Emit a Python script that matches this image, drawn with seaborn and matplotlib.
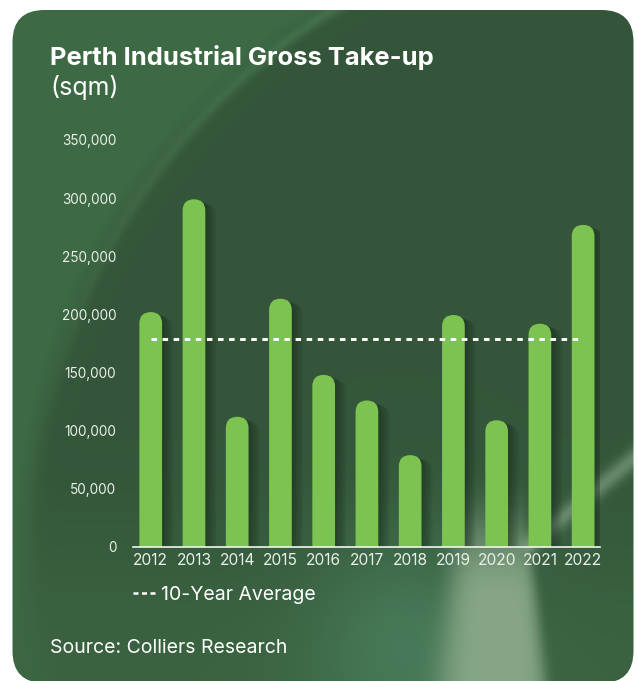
import numpy as np
import pandas as pd
import matplotlib
matplotlib.use("Agg")
import matplotlib.pyplot as plt
from matplotlib.patches import FancyBboxPatch
from matplotlib.lines import Line2D
from matplotlib.ticker import FuncFormatter
import seaborn as sns

# ---- data -------------------------------------------------------------
years = ["2012", "2013", "2014", "2015", "2016", "2017",
         "2018", "2019", "2020", "2021", "2022"]
take_up_sqm = [202000, 299000, 112000, 213500, 148000, 126000,
               79000, 199500, 109000, 192000, 277000]
ten_year_average = 178500
y_ticks = [0, 50000, 100000, 150000, 200000, 250000, 300000, 350000]

title = "Perth Industrial Gross Take-up"
unit_label = "(sqm)"
legend_label = "10-Year Average"
source_note = "Source: Colliers Research"

# ---- style ------------------------------------------------------------
BAR_GREEN = "#7cc352"
SHADOW = "#16261a"
TEXT = "#ffffff"
TICK_TEXT = "#e9f0e9"

sns.set_theme(style="white")
plt.rcParams["font.family"] = ["Inter", "DejaVu Sans"]

W, H = 638, 681
fig = plt.figure(figsize=(W / 100, H / 100), dpi=100)
fig.patch.set_facecolor("white")


# ---- card background with soft lighting --------------------------------
def smoothstep(t):
    t = np.clip(t, 0, 1)
    return t * t * (3 - 2 * t)


def blend(img, color, weight):
    w = np.clip(weight, 0, 1)[..., None]
    return img * (1 - w) + np.asarray(color) * w


yy, xx = np.mgrid[0:H, 0:W] + 0.5
img = np.empty((H, W, 3))
img[:] = (0.204, 0.337, 0.227)

# large arc sweeping across the upper left
d_arc = np.hypot(xx - 664, yy - 546)
img = blend(img, (0.243, 0.416, 0.271), 1 / (1 + np.exp(-(d_arc - 634) / 5)))
img = blend(img, (0.30, 0.50, 0.33),
            0.55 * np.exp(-((d_arc - 630) / 6) ** 2) * np.clip(1 - yy / 450, 0, 1))

# lower part brightens slightly, teal haze bottom centre
img = blend(img, (0.235, 0.40, 0.26), 0.8 * smoothstep((yy - 430) / 250))
img = blend(img, (0.28, 0.48, 0.35),
            0.95 * np.exp(-(((xx - 405) / 95) ** 2 + ((yy - 650) / 110) ** 2)))

# pale light beam at the bottom
hw = np.clip(36 + 16 * (yy - 540) / 140, 18, None)
u = (xx - 494) / hw
beam = np.where(u > 0, np.exp(-u ** 8), np.exp(-(u / 1.1) ** 4))
img = blend(img, (0.55, 0.67, 0.55), 0.92 * beam * smoothstep((yy - 470) / 130))

# thin flare towards the right edge
p0 = np.array([530.0, 545.0])
p1 = np.array([650.0, 445.0])
seg = p1 - p0
t = np.clip(((xx - p0[0]) * seg[0] + (yy - p0[1]) * seg[1]) / seg.dot(seg), 0, 1)
dist = np.hypot(xx - (p0[0] + t * seg[0]), yy - (p0[1] + t * seg[1]))
img = blend(img, (0.56, 0.68, 0.56), 0.55 * np.exp(-(dist / 9) ** 2))

bg = fig.add_axes([0, 0, 1, 1], zorder=0)
bg.set_xlim(0, W)
bg.set_ylim(H, 0)
bg.axis("off")
card = FancyBboxPatch((12.5, 10), 621, 673,
                      boxstyle="round,pad=0,rounding_size=32",
                      facecolor="none", edgecolor="none")
bg.add_patch(card)
im = bg.imshow(img, extent=(0, W, H, 0), interpolation="bilinear", aspect="auto")
im.set_clip_path(card)

# ---- bar chart --------------------------------------------------------
ax_px = (133, 547, 467, 407)  # left, bottom (from top), width, height
ax = fig.add_axes([ax_px[0] / W, 1 - ax_px[1] / H, ax_px[2] / W, ax_px[3] / H],
                  zorder=1)
ax.patch.set_alpha(0)

df = pd.DataFrame({"year": years, "sqm": take_up_sqm})
sns.barplot(data=df, x="year", y="sqm", color=BAR_GREEN, width=0.525,
            saturation=1, ax=ax)

ax.set_ylim(y_ticks[0], y_ticks[-1])
ax.set_xlim(-0.41, len(years) - 1 + 0.39)

x_per_px = (ax.get_xlim()[1] - ax.get_xlim()[0]) / ax_px[2]
y_per_px = (ax.get_ylim()[1] - ax.get_ylim()[0]) / ax_px[3]
aspect = y_per_px / x_per_px

# swap the flat bars for pill-topped ones with a soft drop shadow
for bar in list(ax.patches):
    x0, w, h = bar.get_x(), bar.get_width(), bar.get_height()
    bar.remove()
    ext = (w / 2) * aspect
    style = f"round,pad=0,rounding_size={w / 2 * 0.999}"
    for k in range(1, 9):
        ax.add_patch(FancyBboxPatch(
            (x0 + k * 1.4 * x_per_px, -ext - k * 0.6 * y_per_px), w, h + ext,
            boxstyle=style, mutation_aspect=aspect,
            facecolor=SHADOW, edgecolor="none", alpha=0.07, zorder=1))
    ax.add_patch(FancyBboxPatch(
        (x0, -ext), w, h + ext, boxstyle=style, mutation_aspect=aspect,
        facecolor=BAR_GREEN, edgecolor="none", zorder=2))

avg_style = dict(color="white", linewidth=2.1, linestyle=(0, (1.9, 1.9)))
ax.plot([0, len(years) - 1], [ten_year_average] * 2, zorder=3, **avg_style)

sns.despine(ax=ax, left=True)
ax.spines["bottom"].set_color("#f2f5f2")
ax.spines["bottom"].set_linewidth(1.2)
ax.set_yticks(y_ticks)
ax.yaxis.set_major_formatter(FuncFormatter(lambda v, _: f"{v:,.0f}"))
ax.tick_params(axis="both", length=0, labelcolor=TICK_TEXT)
ax.tick_params(axis="y", pad=12, labelsize=9.8)
ax.tick_params(axis="x", pad=4.5, labelsize=11.2)
ax.set_xlabel("")
ax.set_ylabel("")
ax.grid(False)

# ---- legend and text --------------------------------------------------
handle = Line2D([], [], color="white", linewidth=1.8, linestyle=(0, (2.0, 1.4)))
fig.legend([handle], [legend_label], loc="center left",
           bbox_to_anchor=(133 / W, 1 - 595 / H), frameon=False,
           borderpad=0, borderaxespad=0, handlelength=1.13,
           handletextpad=0.3, fontsize=14, labelcolor=TEXT)

fig.text(50 / W, 1 - 65 / H, title, fontsize=18.4, fontweight="bold",
         color=TEXT, ha="left", va="baseline")
fig.text(50 / W, 1 - 95 / H, unit_label, fontsize=18, color=TEXT,
         ha="left", va="baseline")
fig.text(50 / W, 1 - 653 / H, source_note, fontsize=14, color=TEXT,
         ha="left", va="baseline")

fig.savefig("out.png", dpi=100, facecolor=fig.get_facecolor())
